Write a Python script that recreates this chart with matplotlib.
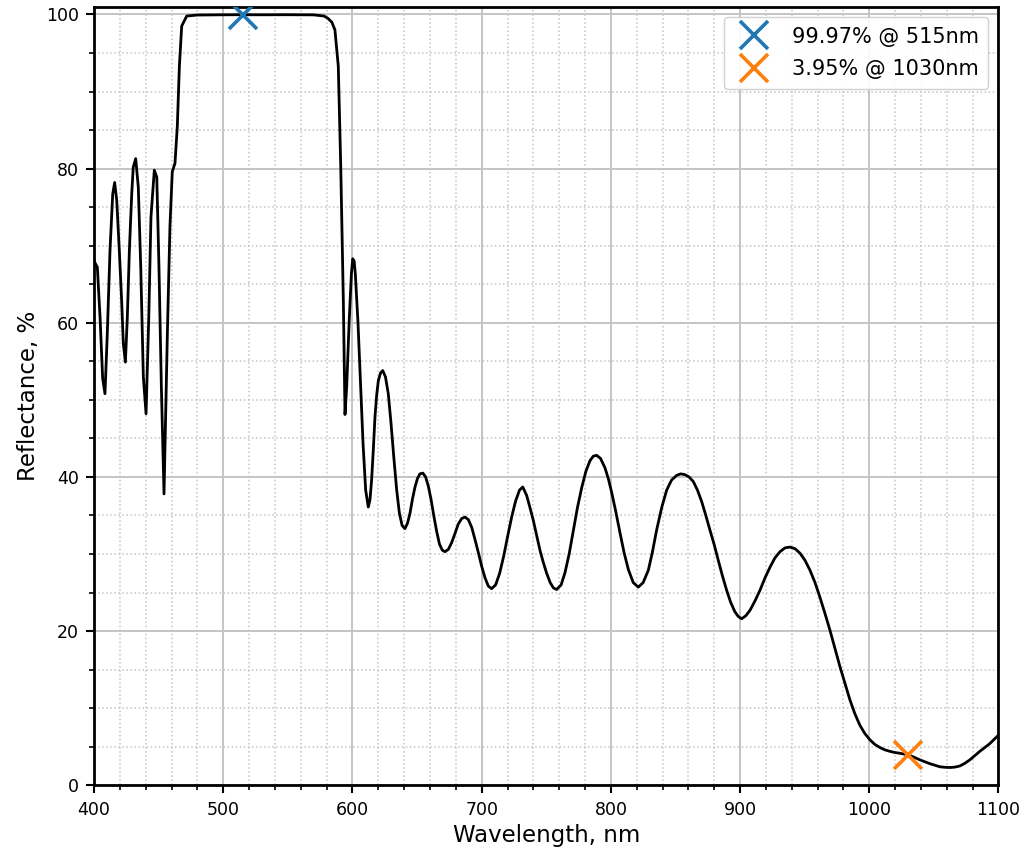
import matplotlib
matplotlib.use("Agg")
import matplotlib.pyplot as plt
from matplotlib.ticker import MultipleLocator

# Measured reflectance spectrum (wavelength in nm, reflectance in %)
wavelength_nm = [
    400.0, 402.5, 404.6, 406.6, 408.4, 410.2, 412.3, 414.4, 415.9, 417.5,
    419.5, 421.3, 422.6, 424.2, 425.7, 427.3, 429.1, 430.3, 432.2, 434.2,
    436.1, 438.1, 440.2, 442.3, 444.0, 446.6, 448.5, 450.2, 452.0, 454.1,
    456.7, 458.7, 460.5, 462.6, 464.4, 466.0, 467.8, 471.7,
    480.0, 490.0, 500.0, 515.0, 530.0, 550.0, 570.0, 578.0, 581.0, 584.0,
    586.4, 589.0, 590.9, 592.9, 594.2, 595.5,
    597.5, 599.2, 600.2, 601.3, 602.2, 604.2, 606.2, 608.2, 610.2, 612.2,
    613.5, 614.8, 616.1, 617.4, 618.7, 620.0, 621.7, 623.4,
    625.5, 627.7, 629.8, 632.0, 634.2, 636.3, 638.4, 640.6,
    642.6, 644.5, 646.5, 648.4, 650.3, 652.2, 654.5,
    656.6, 658.7, 660.9, 663.1, 665.2, 667.3, 669.5, 671.6,
    674.2, 676.8, 679.4, 681.9, 684.5, 687.1,
    689.7, 692.3, 694.8, 697.4, 700.0, 702.6, 705.1, 707.7,
    710.8, 713.9, 717.0, 720.1, 723.2, 726.3, 729.3, 731.8,
    734.8, 737.4, 739.9, 742.6, 745.1, 747.7, 750.3, 753.0, 755.5, 758.0,
    761.5, 764.5, 767.7, 770.9, 774.1, 777.4, 780.6, 783.8, 786.4, 789.0,
    792.0, 795.4, 798.0, 800.6, 803.8, 807.0, 810.2, 813.5, 817.3, 821.2,
    825.0, 829.0, 832.2, 835.4, 839.3, 843.2, 847.0, 850.9, 854.0, 857.3,
    860.5, 863.8, 867.0, 870.3, 873.5, 876.7, 880.0, 883.1, 886.3, 889.6,
    892.8, 896.0, 898.6, 901.2,
    904.5, 907.7, 911.5, 915.4, 919.3, 923.2, 927.0, 930.9, 934.8, 938.6,
    942.5, 946.4, 950.2, 954.1, 958.0, 961.8, 965.7, 969.6, 973.5, 977.3,
    981.2, 985.0, 988.8, 992.7, 996.6, 1000.5, 1004.3, 1008.2, 1012.0, 1015.9,
    1019.8, 1023.7, 1030.0, 1034.5, 1039.1, 1043.0, 1046.9, 1050.7, 1054.6, 1058.5,
    1062.4, 1066.2, 1070.1, 1074.0, 1077.9, 1081.8, 1085.6, 1089.5, 1093.3, 1096.7,
    1100.0,
]
reflectance_pct = [
    68.0, 67.2, 60.7, 52.8, 50.8, 58.6, 69.4, 76.7, 78.2, 75.9,
    69.4, 62.9, 57.3, 54.9, 60.7, 69.4, 76.7, 80.2, 81.3, 77.6,
    67.2, 53.0, 48.2, 60.7, 73.7, 79.8, 78.9, 67.2, 52.1, 37.8,
    58.6, 72.5, 79.6, 80.7, 85.5, 93.3, 98.5, 99.8,
    99.93, 99.95, 99.96, 99.97, 99.96, 99.97, 99.95, 99.8, 99.5, 99.0,
    98.0, 93.3, 80.3, 63.0, 48.1, 51.7,
    60.5, 66.5, 68.3, 68.0, 66.3, 60.2, 52.2, 44.2, 38.3, 36.1,
    37.0, 39.6, 43.5, 47.8, 50.6, 52.5, 53.5, 53.8,
    53.0, 50.8, 47.0, 42.5, 38.3, 35.3, 33.7, 33.3,
    34.0, 35.3, 37.2, 38.7, 39.8, 40.4, 40.5,
    40.0, 38.8, 37.0, 34.8, 32.9, 31.3, 30.5, 30.3,
    30.6, 31.5, 32.7, 33.9, 34.6, 34.8,
    34.45, 33.45, 31.9, 30.2, 28.4, 26.9, 25.85, 25.5,
    26.0, 27.5, 29.7, 32.3, 34.8, 36.9, 38.3, 38.7,
    37.6, 36.0, 34.4, 32.4, 30.5, 28.9, 27.5, 26.3, 25.6, 25.4,
    26.0, 27.6, 30.0, 33.0, 36.0, 38.6, 40.7, 42.1, 42.7, 42.8,
    42.4, 41.2, 39.8, 38.0, 35.5, 32.8, 30.2, 28.0, 26.3, 25.7,
    26.3, 27.9, 30.3, 33.1, 36.0, 38.3, 39.6, 40.2, 40.4, 40.3,
    40.0, 39.4, 38.3, 36.8, 35.0, 33.1, 31.2, 29.2, 27.2, 25.3,
    23.7, 22.5, 21.9, 21.6,
    22.0, 22.7, 23.9, 25.3, 26.9, 28.3, 29.5, 30.3, 30.8, 30.9,
    30.7, 30.1, 29.2, 27.9, 26.3, 24.4, 22.3, 20.1, 17.7, 15.4,
    13.2, 11.1, 9.3, 7.8, 6.7, 5.9, 5.3, 4.9, 4.6, 4.4,
    4.25, 4.15, 3.95, 3.65, 3.3, 3.05, 2.8, 2.6, 2.4, 2.33,
    2.3, 2.35, 2.5, 2.85, 3.3, 3.85, 4.4, 4.9, 5.4, 5.95,
    6.5,
]
assert len(wavelength_nm) == len(reflectance_pct)

# Highlighted design points
marker_wl = [515, 1030]
marker_r = [99.97, 3.95]
marker_colors = ["#1f77b4", "#ff7f0e"]

fig = plt.figure(figsize=(10.23, 8.48), dpi=100)
ax = fig.add_axes([0.092, 0.074, 0.884, 0.918])

ax.plot(wavelength_nm, reflectance_pct, color="black", lw=2.0, zorder=3,
        solid_joinstyle="round")
for w, r, c in zip(marker_wl, marker_r, marker_colors):
    ax.plot([w], [r], linestyle="none", marker="x", color=c, markersize=20,
            markeredgewidth=2.6, label=f"{r:.2f}% @ {w}nm", zorder=4)

ax.set_xlim(400, 1100)
ax.set_ylim(0, 101)
ax.xaxis.set_major_locator(MultipleLocator(100))
ax.xaxis.set_minor_locator(MultipleLocator(20))
ax.yaxis.set_major_locator(MultipleLocator(20))
ax.yaxis.set_minor_locator(MultipleLocator(5))

ax.grid(which="major", color="#c4c4c4", linestyle="-", linewidth=1.4)
ax.grid(which="minor", color="#c4c4c4", linestyle=":", linewidth=1.1)
ax.set_axisbelow(True)

for s in ax.spines.values():
    s.set_linewidth(2.0)
ax.tick_params(which="major", length=6, width=1.5, labelsize=12.5, pad=5)
ax.tick_params(which="minor", length=3.5, width=1.2)

ax.set_xlabel("Wavelength, nm", fontsize=16.5)
ax.set_ylabel("Reflectance, %", fontsize=16.5)

ax.legend(loc="upper right", fontsize=15, handletextpad=0.8,
          borderpad=0.45, labelspacing=0.62, framealpha=0.9)

fig.savefig("out.png", dpi=100)
